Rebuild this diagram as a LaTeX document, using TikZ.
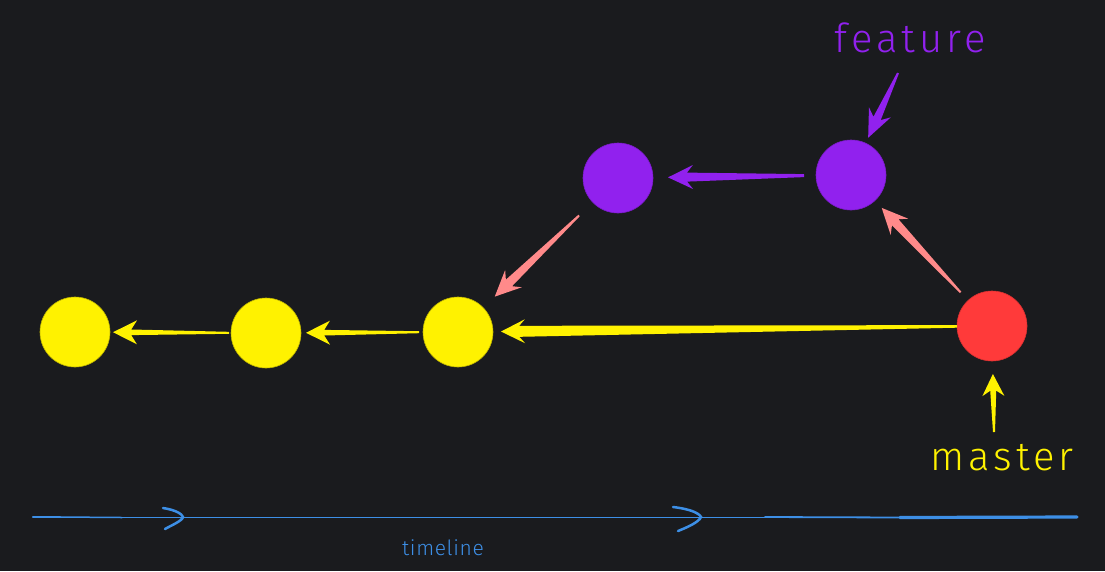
\documentclass[tikz,border=0pt]{standalone}
\usepackage{fontspec}
\setmainfont{Fira Sans}
\newfontfamily\thinfont{Fira Sans Light}
\usetikzlibrary{calc}
\definecolor{bg}{HTML}{1A1B1E}
\definecolor{cyel}{HTML}{FFF200}
\definecolor{cpur}{HTML}{9121EE}
\definecolor{cred}{HTML}{FF3A3A}
\definecolor{cpink}{HTML}{FF8A8A}
\definecolor{cblue}{HTML}{3D8FE6}
\newcommand\tarr[9]{%
  \coordinate (ta) at ($(#1)!#3!(#2)$);
  \coordinate (tb) at ($(#2)!#4!(#1)$);
  \coordinate (hb) at ($(tb)!#9!(ta)$);
  \coordinate (nb) at ($(tb)!0.76*#9!(ta)$);
  \fill[#5] ($(ta)!#6!90:(tb)$) -- ($(nb)!#7!-90:(ta)$) -- ($(hb)!#8!-90:(ta)$) -- (tb)
    -- ($(hb)!#8!90:(ta)$) -- ($(nb)!#7!90:(ta)$) -- ($(ta)!#6!-90:(tb)$) -- cycle;
}
\begin{document}
\begin{tikzpicture}[x=1pt,y=-1pt,
  commit/.style={circle, minimum size=70pt, inner sep=0pt, line width=0.6pt},
  ycommit/.style={commit, fill=cyel, draw=cyel!75!black},
  pcommit/.style={commit, fill=cpur, draw=cpur!85!black},
  rcommit/.style={commit, fill=cred, draw=cred!85!black},
  lbl/.style={font=\thinfont\addfontfeature{LetterSpace=10}\fontsize{40}{42}\selectfont, inner sep=0pt}]
\fill[bg] (0,0) rectangle (1105,571);
\useasboundingbox (0,0) rectangle (1105,571);
\node[ycommit] (y1) at (75,332) {};
\node[ycommit] (y2) at (266,333) {};
\node[ycommit] (y3) at (458,332) {};
\node[pcommit] (p1) at (618,178) {};
\node[pcommit] (p2) at (851,175) {};
\node[rcommit] (r) at (992,326) {};
\node[lbl, text=cpur] (feat) at (910,38) {feature};
\node[lbl, text=cyel] (mast) at (1002,458) {master};
\coordinate (ftail) at (898,73);
\coordinate (mtail) at (994,432);
% connectors
\tarr{y2}{y1}{37pt}{38pt}{cyel}{1pt}{2.8pt}{12pt}{24pt}
\tarr{y3}{y2}{39pt}{40pt}{cyel}{1pt}{2.8pt}{12pt}{24pt}
\tarr{r}{y3}{35pt}{43pt}{cyel}{1.3pt}{5.5pt}{12pt}{24pt}
\tarr{p2}{p1}{47pt}{50pt}{cpur}{1.5pt}{4.5pt}{12pt}{25pt}
\tarr{p1}{y3}{54pt}{51pt}{cpink}{1pt}{4.5pt}{12pt}{26pt}
\tarr{r}{p2}{46pt}{45pt}{cpink}{1pt}{4.5pt}{12pt}{26pt}
\tarr{ftail}{p2}{0pt}{41pt}{cpur}{1pt}{4pt}{12pt}{28pt}
\tarr{mtail}{r}{0pt}{48pt}{cyel}{1pt}{3pt}{11pt}{22pt}
% timeline
\coordinate (tl0) at (33,517);
\coordinate (tl1) at (1077,517);
\draw[cblue, line width=0.7pt] (tl0) -- (tl1);
\draw[cblue, line width=2.5pt, line cap=round] (tl0) -- (60,517);
\draw[cblue, line width=1.5pt, line cap=round] (60,517) -- (122,517.5);
\draw[cblue, line width=1.8pt, line cap=round] (765,517) -- (900,517.5);
\draw[cblue, line width=3.2pt, line cap=round] (900,517.5) -- (tl1);
\draw[cblue, line width=2.5pt, line cap=round] (163,508) .. controls (176,510) and (182,514) .. (183,517) .. controls (182,521) and (172,525) .. (165,529);
\draw[cblue, line width=2.5pt, line cap=round] (673,507) .. controls (690,509) and (699,513) .. (701,517) .. controls (699,522) and (688,527) .. (678,531);
\node[text=cblue, font=\thinfont\addfontfeature{LetterSpace=3}\fontsize{21}{23}\selectfont, inner sep=0pt] (tl) at (443,548) {timeline};
\end{tikzpicture}
\end{document}
